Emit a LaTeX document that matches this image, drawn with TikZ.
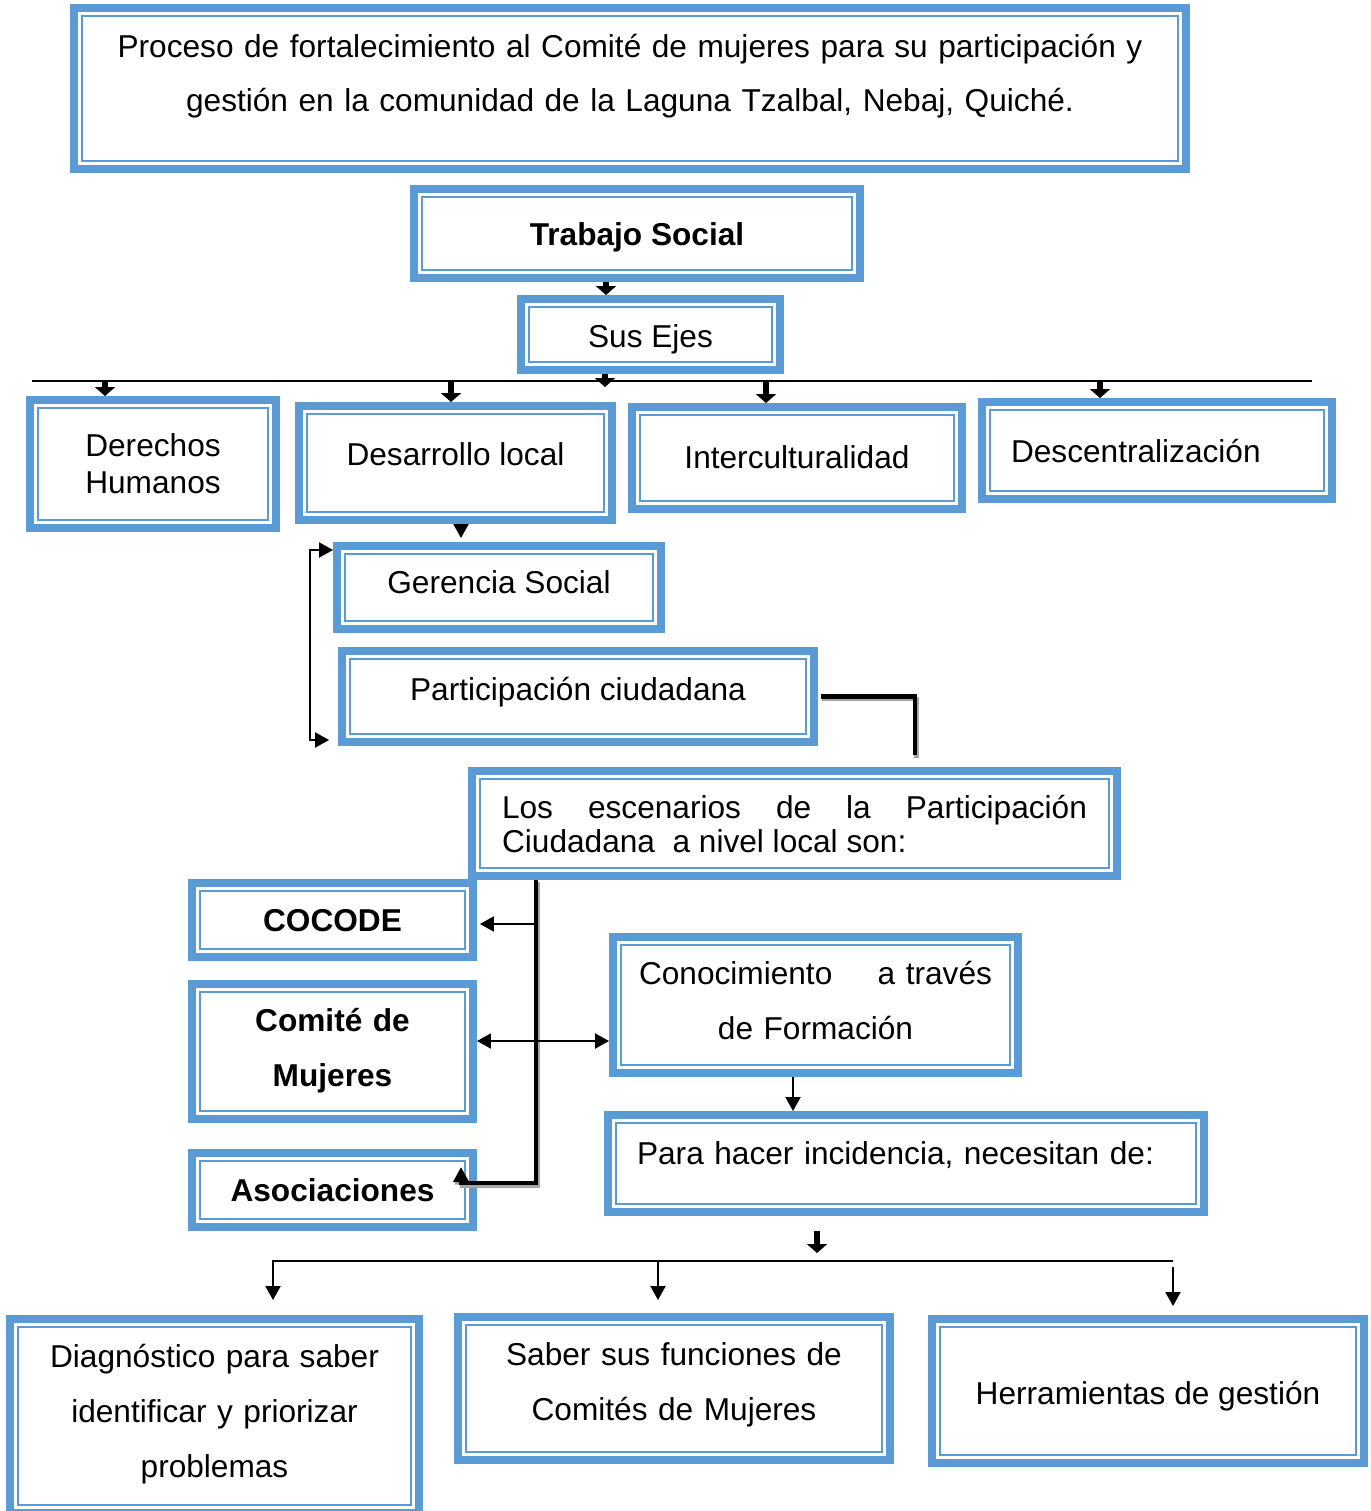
\documentclass[tikz,border=0pt]{standalone}
\usepackage{fontspec}
\setmainfont{Liberation Sans}
\usetikzlibrary{positioning,arrows.meta}

\definecolor{ejeblue}{HTML}{5B9BD5}
\definecolor{sombra}{HTML}{A6A6A6}

\tikzset{
  marco/.style={draw=ejeblue, line width=0.16cm, fill=white, inner sep=0pt,
    text height=0.8cm, font=\fontsize{18}{31.3}\selectfont,
    path picture={\draw[ejeblue, line width=0.04cm]
      ([shift={(0.16cm,0.16cm)}]path picture bounding box.south west) rectangle
      ([shift={(-0.16cm,-0.16cm)}]path picture bounding box.north east);}},
  negrita/.style={font=\fontsize{18}{31.3}\selectfont\bfseries},
  gruesa/.style={-{Triangle[width=0.4cm,length=0.18cm]}, line width=0.12cm},
  fina/.style={-{Triangle[width=0.3cm,length=0.28cm]}, line width=0.04cm},
  finadoble/.style={{Triangle[width=0.3cm,length=0.28cm]}-{Triangle[width=0.3cm,length=0.28cm]}, line width=0.04cm},
  barra/.style={line width=0.04cm},
  codo/.style={line width=0.09cm,
    preaction={draw=sombra, line width=0.09cm, transform canvas={shift={(0.03cm,-0.05cm)}}}}
}

\begin{document}
\begin{tikzpicture}[x=0.02cm, y=-0.02cm]
\useasboundingbox (0,0) rectangle (1371,1511);

% Define nodes
\node[marco, minimum width=22.24cm, minimum height=3.22cm, text depth=2.06cm, text width=20.8cm, align=center] (titulo) at (630,88.5)
{Proceso de fortalecimiento al Comité de mujeres para su participación y\\ gestión en la comunidad de la Laguna Tzalbal, Nebaj, Quiché.};
\node[marco, negrita, minimum width=8.92cm, minimum height=1.78cm, text depth=0.34cm] (trabajo) at (637,233.5) {Trabajo Social};
\node[marco, minimum width=5.18cm, minimum height=1.42cm, text depth=0.30cm] (ejes) at (650.5,334.5) {Sus Ejes};

\node[marco, font=\fontsize{18}{21.6}\selectfont, minimum width=4.92cm, minimum height=2.56cm, text depth=1.12cm, text width=4.4cm, align=center] (derechos) at (153,464) {Derechos\\ Humanos};
\node[marco, minimum width=6.26cm, minimum height=2.28cm, text depth=0.72cm] (desarrollo) at (455.5,463) {Desarrollo local};
\node[marco, minimum width=6.60cm, minimum height=2.04cm, text depth=0.40cm] (intercultura) at (797,458) {Interculturalidad};
\node[marco, minimum width=7.00cm, minimum height=1.94cm, text depth=0.34cm, text width=5.84cm, align=left] (descentral) at (1157,450.5) {Descentralización};

\node[marco, minimum width=6.48cm, minimum height=1.66cm, text depth=0.58cm] (gerencia) at (499,587.5) {Gerencia Social};
\node[marco, minimum width=9.44cm, minimum height=1.82cm, text depth=0.66cm] (participacion) at (578,696.5) {Participación ciudadana};
\node[marco, font=\fontsize{18}{19.9}\selectfont, minimum width=12.90cm, minimum height=2.10cm, text depth=1.02cm, text width=11.7cm, align=justify] (escenarios) at (794.5,823.5)
{Los escenarios de la Participación\linebreak Ciudadana\ \ a nivel local son:};

\node[marco, negrita, minimum width=5.62cm, minimum height=1.48cm, text depth=0.36cm] (cocode) at (332.5,920) {COCODE};
\node[marco, negrita, minimum width=5.62cm, minimum height=2.70cm, text depth=1.58cm, text width=5cm, align=center, below=0.38cm of cocode] (comite) {Comité de\\ Mujeres};
\node[marco, negrita, minimum width=5.62cm, minimum height=1.48cm, text depth=0.32cm, below=0.52cm of comite] (asociaciones) {Asociaciones};

\node[marco, minimum width=8.10cm, minimum height=2.72cm, text depth=1.64cm, text width=7.6cm, align=center] (conocimiento) at (815.5,1005) {Conocimiento\hspace{1.1em} a través\\ de Formación};
\node[marco, minimum width=11.92cm, minimum height=1.94cm, text depth=0.78cm, text width=10.76cm, align=left] (incidencia) at (906,1163.5) {Para hacer incidencia, necesitan de:};

\node[marco, minimum width=8.18cm, minimum height=3.88cm, text depth=2.76cm, text width=7.6cm, align=center] (diagnostico) at (214.5,1416) {Diagnóstico para saber\\ identificar y priorizar\\ problemas};
\node[marco, minimum width=8.64cm, minimum height=2.86cm, text depth=1.74cm, text width=8.2cm, align=center] (funciones) at (674,1388.5) {Saber sus funciones de\\ Comités de Mujeres};
\node[marco, minimum width=8.64cm, minimum height=2.88cm, text depth=0.28cm] (herramientas) at (1148,1391) {Herramientas de gestión};

% Coordinates for the connectors
\coordinate (xTS) at (606,0);
\coordinate (ejesHub) at (605,387);
\coordinate (ejesL) at (32,381);
\coordinate (ejesR) at (1312,381);
\coordinate (tapDH) at (105,381);
\coordinate (tapDL) at (451,381);
\coordinate (tapIC) at (766,381);
\coordinate (tapDC) at (1100,381);
\coordinate (xDG) at (461,0);
\coordinate (brTop) at (310,550);
\coordinate (brBot) at (310,740);
\coordinate (escTop) at (915,755);
\coordinate (trunkFoot) at (536,1183);
\coordinate (asocTip) at (461,1167);
\coordinate (cocodeTap) at (536,924);
\coordinate (comiteTap) at (536,1041);
\coordinate (xCI) at (793,0);
\coordinate (needsHub) at (817,1253);
\coordinate (needsL) at (273,1261);
\coordinate (needsM) at (658,1261);
\coordinate (needsR) at (1173,1261);

% Draw arrows
\draw[gruesa] (xTS |- trabajo.south) -- (xTS |- ejes.north);
\draw[gruesa] (ejesHub |- ejes.south) -- (ejesHub);
\draw[barra] (ejesL) -- (ejesR);
\draw[gruesa] (tapDH) -- (tapDH |- derechos.north);
\draw[gruesa] (tapDL) -- (tapDL |- desarrollo.north);
\draw[gruesa] (tapIC) -- (tapIC |- intercultura.north);
\draw[gruesa] (tapDC) -- (tapDC |- descentral.north);

\draw[fina, shorten >=0.08cm] (xDG |- desarrollo.south) -- (xDG |- gerencia.north);
\draw[finadoble, shorten >=0.18cm] (brTop -| gerencia.west) -- (brTop) -- (brBot) -- (brBot -| participacion.west);
\draw[codo, shorten <=0.06cm] (participacion.east) -| (escTop);

\draw[codo, -{Triangle[width=0.3cm,length=0.3cm]}] (trunkFoot |- escenarios.south) -- (trunkFoot) -| (asocTip);
\draw[fina, shorten >=0.06cm] (cocodeTap) -- (cocodeTap -| cocode.east);
\draw[finadoble] (comiteTap -| comite.east) -- (comiteTap -| conocimiento.west);
\draw[fina] (xCI |- conocimiento.south) -- (xCI |- incidencia.north);

\draw[gruesa, shorten <=0.30cm] (needsHub |- incidencia.south) -- (needsHub);
\draw[fina, shorten >=0.30cm] (needsR) -- (needsL) -- (needsL |- diagnostico.north);
\draw[fina, shorten >=0.26cm] (needsM) -- (needsM |- funciones.north);
\draw[fina, shorten <=0.12cm, shorten >=0.18cm] (needsR) -- (needsR |- herramientas.north);

\end{tikzpicture}
\end{document}
